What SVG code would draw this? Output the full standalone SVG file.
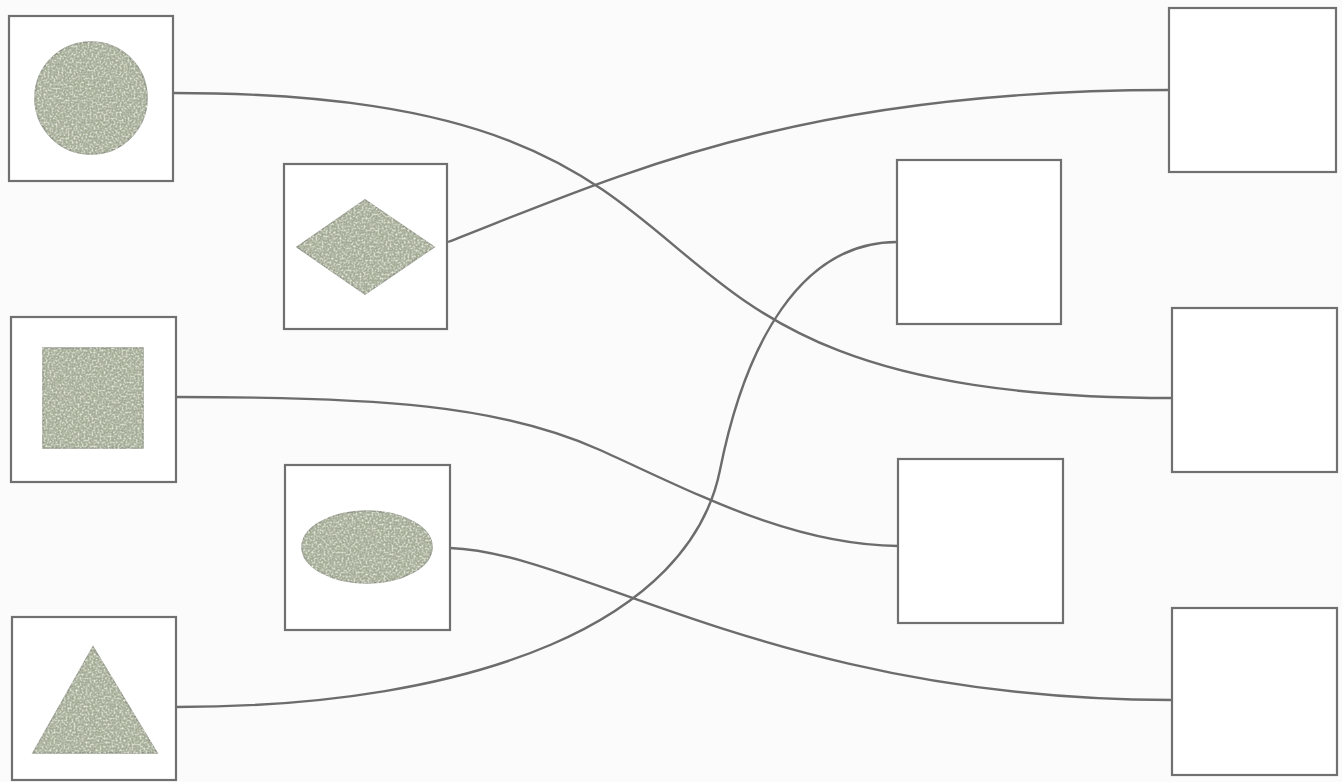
<svg xmlns="http://www.w3.org/2000/svg" width="1342" height="782" viewBox="0 0 1342 782">
<defs>
<filter id="tex" x="-10%" y="-10%" width="120%" height="120%">
<feTurbulence type="fractalNoise" baseFrequency="0.45" numOctaves="2" seed="3" result="n"/>
<feColorMatrix in="n" type="matrix" values="0 0 0 0 0.42  0 0 0 0 0.46  0 0 0 0 0.38  0 0 0 2.2 -0.9" result="dark"/>
<feComposite in="dark" in2="SourceGraphic" operator="in" result="darkspots"/>
<feTurbulence type="fractalNoise" baseFrequency="0.5" numOctaves="2" seed="11" result="n2"/>
<feColorMatrix in="n2" type="matrix" values="0 0 0 0 0.86  0 0 0 0 0.88  0 0 0 0 0.76  0 0 0 2.2 -0.95" result="light"/>
<feComposite in="light" in2="SourceGraphic" operator="in" result="lightspots"/>
<feMerge><feMergeNode in="SourceGraphic"/><feMergeNode in="darkspots"/><feMergeNode in="lightspots"/></feMerge>
</filter>
</defs>
<style>
.box{fill:#ffffff;stroke:#707070;stroke-width:2.2}
.shape{fill:#a3aa94;stroke:#8a9084;stroke-width:1.5;filter:url(#tex)}
.link{fill:none;stroke:#6c6c6c;stroke-width:2.4}
</style>
<rect width="1342" height="782" fill="#fbfbfb"/>
<g id="connectors">
<path class="link" d="M173,93 C811,93 538,398 1172,398"/>
<path class="link" d="M448,242 C620,175 800,90 1168,90"/>
<path class="link" d="M176,397 C380,397 500,405 600,450 C690,490.5 790,545 898,546"/>
<path class="link" d="M450,548 C580,552 780,700 1172,700"/>
<path class="link" d="M176,707 C480,707 690,620 720,470 C745,345 800,242 897,242"/>
</g>
<g id="node-circle">
<rect class="box" x="9" y="16" width="164" height="165"/>
<circle class="shape" cx="91" cy="98" r="56"/>
</g>
<g id="node-diamond">
<rect class="box" x="284" y="164" width="163" height="165"/>
<polygon class="shape" points="297,247 365,200 434,247 365,294"/>
</g>
<g id="node-square">
<rect class="box" x="11" y="317" width="165" height="165"/>
<rect class="shape" x="43" y="348" width="100" height="100"/>
</g>
<g id="node-ellipse">
<rect class="box" x="285" y="465" width="165" height="165"/>
<ellipse class="shape" cx="367" cy="547" rx="65" ry="36"/>
</g>
<g id="node-triangle">
<rect class="box" x="12" y="617" width="164" height="163"/>
<polygon class="shape" points="93,647 157,753 33,753"/>
</g>
<g id="node-r1">
<rect class="box" x="1169" y="8" width="167" height="164"/>
</g>
<g id="node-r2">
<rect class="box" x="897" y="160" width="164" height="164"/>
</g>
<g id="node-r3">
<rect class="box" x="1172" y="308" width="165" height="164"/>
</g>
<g id="node-r4">
<rect class="box" x="898" y="459" width="165" height="164"/>
</g>
<g id="node-r5">
<rect class="box" x="1172" y="608" width="165" height="167"/>
</g>
</svg>
